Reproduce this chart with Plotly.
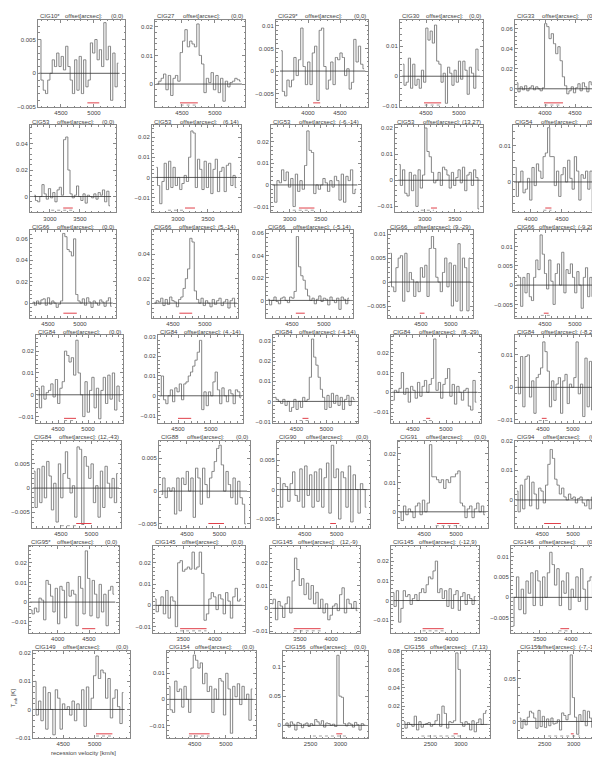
import plotly.graph_objects as go

W, H = 600, 758

# --- spectra, T_mb [K] per channel, one list per pointing ---
t_cig10 = [0.005, -0.001, -0.0025, -0.003, -0.001, 0.0, 0.002, 0.001, 0.003, 0.001, 0.0025, 0.0005, 0.004, 0.001, -0.001, -0.003, 0.002, -0.0025, 0.0025, -0.003, 0.002, -0.002, -0.001, 0.0045, 0.003, 0.005, 0.002, 0.0035, 0.001, 0.0075, 0.002, 0.004, -0.004, 0.003, -0.002, 0.0015]
t_cig27 = [0.0, 0.001, 0.002, 0.0035, -0.002, 0.003, -0.004, 0.002, 0.003, 0.001, 0.011, 0.015, 0.019, 0.013, 0.015, 0.014, 0.013, 0.021, 0.01, 0.007, -0.003, 0.002, 0.0005, 0.004, -0.002, 0.003, -0.003, 0.002, -0.006, 0.001, -0.001, 0.0005, 0.001, 0.002, 0.0015, 0.001]
t_cig29 = [0.0045, -0.0045, -0.0055, -0.002, -0.0035, -0.002, 0.003, -0.001, 0.0025, 0.0095, 0.001, -0.003, 0.002, -0.003, 0.004, 0.0055, -0.0065, 0.009, 0.0095, 0.001, -0.004, -0.002, 0.002, -0.003, 0.003, 0.0025, 0.004, 0.003, -0.001, 0.0005, -0.004, -0.0025, 0.007, 0.002, 0.0055, 0.0015, 0.0005]
t_cig30 = [0.004, -0.003, -0.002, 0.006, -0.004, 0.004, -0.003, -0.001, -0.004, 0.002, -0.002, 0.016, 0.012, 0.015, 0.011, 0.017, 0.005, 0.004, -0.002, 0.001, -0.009, 0.003, 0.001, -0.003, 0.002, -0.002, 0.005, -0.001, 0.005, 0.002, -0.006, 0.003, 0.001, -0.004, 0.009, 0.002]
t_cig33 = [0.006, -0.003, 0.002, -0.001, 0.003, -0.002, 0.001, 0.003, -0.001, 0.002, 0.0, -0.002, 0.001, 0.065, 0.062, 0.05, 0.055, 0.045, 0.035, 0.042, 0.028, 0.012, 0.003, -0.005, -0.002, 0.002, -0.004, 0.001, 0.005, -0.002, 0.006, 0.002, -0.003, 0.007, 0.004, -0.008, 0.003]
t_cig53_a = [0.001, -0.003, -0.004, 0.0, 0.009, 0.002, -0.002, 0.006, -0.001, 0.003, -0.004, 0.005, 0.007, 0.001, 0.043, 0.045, 0.02, 0.002, -0.001, 0.001, 0.008, 0.0, -0.003, 0.002, -0.005, 0.001, 0.0, -0.001, 0.002, -0.002, 0.003, 0.001, 0.005, -0.004, 0.004, -0.007]
t_cig53_b = [0.005, -0.004, -0.013, -0.002, 0.007, -0.006, 0.008, -0.005, 0.005, -0.004, 0.0, -0.006, -0.003, 0.001, -0.002, 0.01, 0.023, 0.022, -0.005, 0.009, 0.004, -0.006, 0.008, -0.005, 0.007, -0.008, 0.004, 0.009, -0.007, 0.003, 0.005, -0.007, 0.006, 0.007, -0.004, 0.001, -0.005]
t_cig53_c = [0.0, -0.008, 0.002, 0.001, 0.007, 0.002, 0.006, -0.001, 0.003, -0.01, 0.005, -0.003, 0.002, -0.002, 0.009, 0.025, 0.016, 0.015, -0.004, 0.0, -0.002, 0.0, 0.003, 0.001, -0.003, 0.002, -0.001, 0.004, 0.002, -0.007, 0.005, -0.008, 0.004, 0.002, 0.007, -0.004, -0.002]
t_cig53_d = [0.006, -0.002, 0.004, -0.005, -0.006, 0.003, -0.004, 0.002, -0.01, 0.004, -0.003, 0.002, 0.02, 0.011, 0.009, 0.003, -0.001, 0.0, 0.003, -0.002, 0.005, 0.004, 0.002, -0.003, 0.003, -0.002, 0.001, 0.004, -0.001, 0.005, -0.004, 0.002, 0.003, -0.002, 0.004, 0.001, -0.011]
t_cig54 = [0.004, -0.004, 0.0, 0.003, -0.003, -0.002, 0.001, -0.005, 0.004, -0.001, 0.005, 0.003, 0.001, 0.007, 0.008, 0.015, 0.007, 0.007, -0.001, 0.003, -0.004, 0.002, 0.004, 0.0, 0.006, 0.001, -0.002, 0.007, 0.003, -0.005, 0.002, 0.001, 0.003, -0.002, 0.003, -0.008, 0.006]
t_cig66_a = [0.001, -0.002, 0.002, -0.001, 0.003, 0.004, -0.002, 0.005, -0.001, 0.002, 0.0, -0.004, -0.001, 0.002, 0.065, 0.062, 0.05, 0.048, 0.044, 0.06, 0.008, 0.002, 0.0, 0.004, -0.002, 0.005, 0.001, -0.004, 0.002, 0.0, -0.002, 0.003, 0.001, -0.003, 0.002, 0.005, -0.003]
t_cig66_b = [0.0, 0.002, 0.001, 0.004, -0.002, 0.003, -0.001, 0.005, 0.002, 0.001, -0.003, 0.003, 0.005, 0.012, 0.02, 0.028, 0.053, 0.05, 0.01, 0.003, 0.0, 0.004, -0.002, 0.002, 0.0, -0.003, 0.003, -0.001, 0.002, 0.004, -0.002, 0.001, 0.003, -0.004, 0.002, 0.004, -0.003]
t_cig66_c = [0.001, -0.004, 0.0, 0.003, -0.001, -0.003, 0.002, 0.003, 0.0, -0.002, 0.003, 0.002, 0.008, 0.057, 0.03, 0.022, 0.018, 0.01, 0.004, 0.0, 0.002, -0.003, 0.001, 0.004, -0.001, 0.002, 0.001, -0.004, 0.003, 0.0, -0.002, 0.002, -0.008, 0.003, 0.001, -0.003, 0.002]
t_cig66_d = [0.006, -0.001, -0.002, 0.003, 0.005, 0.0055, -0.004, 0.006, -0.002, 0.002, 0.0005, -0.003, 0.0, -0.002, 0.003, 0.001, 0.0035, -0.003, 0.007, 0.0095, 0.007, 0.001, 0.0, -0.002, 0.002, 0.005, -0.001, 0.004, -0.005, 0.0035, -0.004, 0.008, -0.006, 0.005, 0.003, -0.006, 0.005]
t_cig66_e = [0.0025, 0.002, -0.0055, 0.002, -0.002, 0.003, -0.003, -0.004, 0.002, 0.0065, 0.004, 0.013, 0.008, 0.003, -0.001, 0.0065, 0.001, -0.005, 0.003, 0.0055, 0.0, 0.0085, -0.002, 0.004, 0.003, 0.0055, 0.002, -0.002, 0.0035, 0.0, -0.006, 0.002, 0.0045, -0.003, 0.002, -0.003, 0.0075]
t_cig84_a = [0.003, -0.006, 0.004, -0.002, 0.001, 0.002, 0.005, -0.001, 0.007, -0.004, 0.003, 0.006, 0.02, 0.018, 0.015, 0.017, 0.009, 0.025, 0.01, 0.0, -0.01, 0.006, -0.008, 0.002, 0.008, -0.006, 0.003, -0.011, 0.002, 0.008, -0.004, 0.009, -0.002, 0.01, -0.007, 0.004, -0.003]
t_cig84_b = [0.0, 0.01, -0.002, -0.004, 0.0, 0.003, -0.003, 0.004, 0.002, 0.006, -0.002, 0.006, 0.007, 0.01, 0.012, 0.015, 0.018, 0.022, 0.028, -0.007, 0.002, -0.005, 0.002, 0.0, 0.007, 0.012, 0.003, -0.004, 0.004, 0.0, -0.003, 0.003, 0.001, -0.004, 0.003, 0.002, -0.001]
t_cig84_c = [0.002, 0.001, 0.0, -0.001, 0.001, -0.002, 0.0, -0.005, -0.003, 0.001, -0.004, 0.0, -0.003, 0.002, 0.0, 0.001, 0.012, 0.031, 0.022, 0.018, 0.012, 0.006, 0.002, -0.004, 0.003, -0.003, 0.004, -0.001, 0.003, -0.002, 0.002, -0.004, 0.001, 0.003, -0.002, 0.002, 0.001]
t_cig84_d = [-0.004, 0.001, 0.0, 0.002, 0.01, -0.001, 0.002, -0.005, 0.003, 0.001, -0.003, 0.005, -0.002, 0.003, 0.006, 0.0, 0.004, 0.007, 0.027, 0.001, 0.005, -0.003, 0.004, 0.007, 0.012, -0.002, 0.004, -0.006, 0.003, 0.0, -0.004, 0.001, 0.002, -0.007, -0.009, 0.006, -0.005]
t_cig84_e = [0.003, -0.002, 0.0095, -0.006, 0.0095, 0.01, -0.003, 0.002, -0.008, 0.003, 0.004, 0.006, 0.014, 0.011, 0.005, -0.006, 0.002, -0.004, 0.001, 0.003, -0.008, 0.002, 0.004, -0.005, 0.001, 0.0, 0.003, 0.014, -0.002, 0.001, -0.009, 0.009, -0.006, 0.008, -0.007, 0.004, -0.008]
t_cig84_f = [0.0035, -0.004, 0.004, -0.003, 0.0045, -0.002, 0.0055, 0.0025, -0.0045, 0.001, -0.007, 0.005, -0.002, 0.003, 0.0075, 0.002, -0.001, 0.0005, -0.006, 0.0085, 0.008, -0.0075, 0.0065, 0.0045, 0.002, 0.005, -0.003, 0.0005, -0.006, 0.0035, -0.004, 0.0045, 0.001, -0.002, 0.002, -0.003, 0.003]
t_cig88 = [-0.0005, 0.002, -0.001, 0.0005, 0.0, 0.0005, -0.0035, 0.002, -0.003, 0.002, 0.001, 0.003, 0.0, 0.002, -0.004, 0.0035, 0.002, -0.002, 0.0035, 0.001, -0.001, 0.002, 0.003, 0.0045, 0.0065, 0.007, 0.004, 0.0, 0.003, 0.001, -0.001, 0.002, -0.002, 0.0015, -0.001, -0.002, -0.005]
t_cig90 = [0.002, -0.003, 0.001, 0.0005, -0.002, 0.001, 0.003, -0.001, -0.002, 0.0035, -0.003, 0.004, -0.001, 0.0025, -0.003, 0.003, -0.002, 0.0035, -0.003, 0.002, 0.0045, -0.004, 0.0075, 0.002, 0.0035, -0.005, 0.003, 0.002, -0.003, 0.004, -0.0055, 0.0025, 0.0, -0.004, 0.001, 0.0, -0.003]
t_cig91 = [0.0, -0.003, 0.002, -0.001, 0.001, 0.0, -0.002, 0.002, 0.003, -0.001, 0.004, 0.0, 0.003, 0.023, 0.012, 0.012, 0.011, 0.01, 0.011, 0.008, 0.011, 0.01, 0.012, 0.012, 0.013, 0.014, 0.003, 0.002, -0.002, 0.001, 0.002, -0.002, 0.001, 0.003, 0.0, 0.002, -0.001]
t_cig94 = [0.003, -0.004, 0.005, -0.003, 0.007, 0.008, -0.002, 0.006, 0.002, -0.003, 0.004, 0.003, -0.001, 0.005, 0.012, 0.017, 0.014, 0.007, 0.005, 0.002, 0.004, 0.001, 0.0, 0.002, 0.0005, 0.001, -0.001, 0.0005, 0.001, -0.001, -0.002, 0.0, -0.003, 0.001, -0.004, -0.002, 0.002]
t_cig95 = [-0.004, -0.006, -0.003, -0.005, 0.002, 0.001, -0.009, 0.011, 0.009, 0.003, -0.005, 0.007, -0.011, 0.008, 0.006, -0.008, 0.01, 0.003, 0.006, 0.004, -0.012, 0.013, 0.007, -0.006, 0.026, 0.012, -0.007, 0.011, 0.004, -0.008, 0.009, -0.005, 0.004, -0.012, 0.006, 0.008, 0.004]
t_cig145_a = [0.003, -0.003, 0.0, 0.004, -0.004, 0.007, -0.006, 0.004, 0.002, -0.01, 0.02, 0.021, 0.016, 0.017, 0.018, 0.017, 0.025, 0.017, 0.018, 0.025, 0.015, -0.007, -0.004, 0.003, 0.006, 0.004, -0.002, 0.005, 0.003, -0.004, 0.006, 0.002, -0.006, 0.004, 0.008, 0.002, 0.003]
t_cig145_b = [0.002, 0.004, -0.005, 0.003, 0.001, -0.004, 0.002, 0.005, -0.002, 0.012, 0.022, 0.017, 0.01, 0.013, 0.006, 0.011, 0.004, 0.01, 0.002, 0.007, 0.0, 0.004, -0.002, 0.002, -0.005, -0.003, 0.001, 0.002, -0.001, 0.006, 0.009, -0.002, 0.004, 0.002, 0.0, 0.003, -0.001]
t_cig145_c = [0.004, -0.003, 0.005, -0.011, -0.004, 0.005, 0.002, 0.003, -0.002, 0.001, 0.003, 0.0, 0.004, 0.006, 0.004, 0.008, 0.012, 0.011, 0.015, 0.02, 0.004, 0.006, 0.001, 0.005, -0.003, 0.006, -0.004, 0.003, 0.005, -0.005, 0.002, 0.004, -0.002, 0.003, 0.001, -0.002, 0.002]
t_cig146 = [-0.007, 0.0, 0.005, -0.003, 0.002, -0.004, 0.004, 0.001, 0.006, -0.002, 0.0065, 0.004, -0.002, 0.005, 0.0, 0.006, 0.011, 0.008, 0.003, 0.007, -0.002, 0.004, 0.001, 0.006, -0.003, 0.002, 0.0, 0.005, -0.001, 0.007, 0.002, -0.003, 0.004, 0.005, 0.0, -0.004, 0.002]
t_cig149 = [0.01, -0.002, 0.003, -0.004, 0.008, -0.007, 0.006, 0.0, -0.009, 0.007, 0.004, -0.007, 0.002, 0.0, 0.001, -0.002, 0.003, -0.004, 0.002, 0.0, 0.007, -0.006, 0.008, 0.0, 0.004, 0.012, 0.019, 0.011, 0.014, 0.013, 0.004, 0.011, -0.003, 0.004, 0.007, 0.001, -0.005, 0.006]
t_cig154 = [0.005, -0.004, -0.005, 0.007, 0.003, 0.004, -0.003, 0.005, 0.0, -0.005, 0.012, 0.017, 0.015, 0.012, 0.014, 0.006, 0.01, 0.003, 0.005, -0.005, 0.004, 0.0, 0.008, 0.007, -0.006, 0.01, 0.004, -0.013, 0.005, 0.001, 0.006, -0.002, 0.005, 0.0, 0.002, -0.008, 0.004]
t_cig156_a = [0.0, 0.004, -0.003, 0.006, 0.002, -0.008, 0.005, 0.003, -0.004, 0.002, 0.004, -0.002, 0.003, 0.0, 0.01, 0.006, 0.002, 0.008, -0.003, 0.004, 0.003, 0.0, 0.002, -0.002, 0.12, 0.05, 0.048, 0.003, -0.001, 0.004, 0.002, -0.003, 0.005, 0.001, -0.008, 0.003, 0.001]
t_cig156_b = [0.003, -0.004, 0.002, 0.0, -0.002, 0.009, -0.006, 0.003, -0.003, 0.0, 0.001, 0.002, -0.002, 0.0, 0.004, 0.011, -0.002, 0.02, 0.012, -0.004, 0.003, 0.002, 0.004, 0.078, 0.06, 0.002, -0.002, 0.003, 0.001, -0.006, 0.004, -0.008, 0.002, 0.006, 0.0, 0.012, 0.015]
t_cig156_c = [0.004, -0.008, 0.002, -0.004, 0.005, 0.012, 0.01, 0.004, -0.008, 0.013, -0.006, 0.006, -0.007, 0.003, -0.005, 0.004, -0.003, -0.002, 0.002, -0.01, 0.01, 0.007, 0.002, 0.008, 0.078, 0.028, 0.005, -0.015, 0.008, 0.0, 0.013, -0.005, 0.012, 0.004, -0.007, 0.0, 0.003]

SPECTRA = [t_cig10, t_cig27, t_cig29, t_cig30, t_cig33,
           t_cig53_a, t_cig53_b, t_cig53_c, t_cig53_d, t_cig54,
           t_cig66_a, t_cig66_b, t_cig66_c, t_cig66_d, t_cig66_e,
           t_cig84_a, t_cig84_b, t_cig84_c, t_cig84_d, t_cig84_e,
           t_cig84_f, t_cig88, t_cig90, t_cig91, t_cig94,
           t_cig95, t_cig145_a, t_cig145_b, t_cig145_c, t_cig146,
           t_cig149, t_cig154, t_cig156_a, t_cig156_b, t_cig156_c]

SOURCE = ["CIG10*", "CIG27", "CIG29*", "CIG30", "CIG33",
          "CIG53", "CIG53", "CIG53", "CIG53", "CIG54",
          "CIG66", "CIG66", "CIG66", "CIG66", "CIG66",
          "CIG84", "CIG84", "CIG84", "CIG84", "CIG84",
          "CIG84", "CIG88", "CIG90", "CIG91", "CIG94",
          "CIG95*", "CIG145", "CIG145", "CIG145", "CIG146",
          "CIG149", "CIG154", "CIG156", "CIG156", "CIG156"]
OFFSET = ["(0,0)", "(0,0)", "(0,0)", "(0,0)", "(0,0)",
          "(0,0)", "(6,14)", "(-6,-14)", "(13,27)", "(0,0)",
          "(0,0)", "(5,-14)", "(-5,14)", "(9,-29)", "(-9,29)",
          "(0,0)", "(4,-14)", "(-4,14)", "(8,-29)", "(-8,29)",
          "(12,-43)", "(0,0)", "(0,0)", "(0,0)", "(0,0)",
          "(0,0)", "(0,0)", "(12,-9)", "(-12,9)", "(0,0)",
          "(0,0)", "(0,0)", "(0,0)", "(7,13)", "(-7,-13)"]

# first channel velocity and channel width [km/s]
V_START = [4180, 4130, 3580, 4150, 3530,
           2740, 2640, 2740, 2570, 3745,
           4270, 4220, 4130, 3990, 4040,
           4170, 4230, 4140, 4200, 4070,
           4060, 4110, 4100, 4120, 4090,
           3570, 3050, 3050, 3050, 3070,
           4050, 4090, 2070, 2060, 2070]
CHAN_WIDTH = [34, 36, 36, 33, 37,
              36, 37, 37, 37, 36,
              34, 35, 35, 37, 36,
              38, 34, 37, 35, 37,
              38, 36, 38, 37, 37,
              37, 38, 38, 37, 38,
              38, 37, 37, 38, 37]

# velocity windows: red bar (line) and grey dotted bar
LINE_RANGE = [(4900, 5080), (4470, 4740), (4080, 4190), (4470, 4730), (3983, 4300),
              (3220, 3380), (3117, 3283), (3150, 3400), (3100, 3200), (4230, 4330),
              (4740, 4950), (4600, 4800), (4560, 4700), (4480, 4560), (4480, 4560),
              (4600, 4800), (4500, 4700), (4600, 4700), (4700, 4760), (4480, 4560),
              (4750, 5000), (4830, 5070), (4900, 4990), (4700, 5050), (4530, 4800),
              (4390, 4600), (3450, 3870), (3400, 3830), (3530, 3870), (3830, 3970),
              (5020, 5280), (4410, 4740), (2930, 3030), (2880, 2950), (2950, 3000)]
DOT_RANGE = [None, (4480, 4720), None, (4480, 4720), (3990, 4290),
             (3020, 3380), (2833, 3117), (3050, 3400), (2930, 3150), (4200, 4330),
             None, None, None, None, (4430, 4600),
             (4600, 4800), None, (4550, 4750), (4650, 4800), (4430, 4620),
             (4500, 4750), None, None, (4680, 5080), None,
             None, (3450, 3870), (3400, 3830), (3530, 3870), (3800, 4000),
             (5020, 5280), (4410, 4740), (2540, 3130), (2350, 3000), (2560, 3110)]

X_TICKS = ([[4500, 5000], [4500, 5000], [4000, 4500], [4500, 5000], [4000, 4500]]
           + [[3000, 3500]] * 4 + [[4000, 4500]]
           + [[4500, 5000]] * 15
           + [[4000, 4500]] + [[3500, 4000]] * 4
           + [[4500, 5000]] * 2 + [[2500, 3000]] * 3)

# axis scales
X_RANGE = [[4152, 5470], [4091, 5455], [3500, 4937], [4106, 5364], [3500, 4933],
           [2667, 4100], [2567, 4050], [2700, 4150], [2500, 3967], [3710, 5129],
           [4219, 5562], [4172, 5516], [4094, 5453], [3950, 5370], [4000, 5383],
           [4133, 5583], [4197, 5485], [4106, 5530], [4167, 5530], [4033, 5450],
           [4030, 5480], [4071, 5470], [4066, 5524], [4090, 5500], [4060, 5480],
           [3540, 4980], [3020, 4480], [3020, 4460], [3020, 4440], [3040, 4480],
           [4020, 5560], [4060, 5480], [2040, 3460], [2030, 3480], [2040, 3470]]
Y_RANGE = [[-0.00502, 0.0079], [-0.0081, 0.0224], [-0.008, 0.0113], [-0.0103, 0.0187], [-0.0184, 0.0687],
           [-0.012, 0.054], [-0.0173, 0.0259], [-0.0127, 0.0277], [-0.0123, 0.0211], [-0.0084, 0.0157],
           [-0.0135, 0.068], [-0.0118, 0.0596], [-0.0153, 0.0626], [-0.0074, 0.0108], [-0.0084, 0.0142],
           [-0.0128, 0.0272], [-0.0136, 0.0305], [-0.0106, 0.0328], [-0.0154, 0.0288], [-0.0109, 0.016],
           [-0.0082, 0.0098], [-0.0056, 0.0077], [-0.0065, 0.0083], [-0.0055, 0.0244], [-0.0094, 0.02],
           [-0.0157, 0.0286], [-0.013, 0.028], [-0.0108, 0.0274], [-0.0165, 0.0278], [-0.0087, 0.0126],
           [-0.0102, 0.0208], [-0.0149, 0.0186], [-0.022, 0.1275], [-0.015, 0.0802], [-0.0196, 0.0827]]
Y_DTICK = [0.005, 0.01, 0.005, 0.01, 0.02,
           0.02, 0.01, 0.01, 0.01, 0.01,
           0.02, 0.02, 0.02, 0.005, 0.005,
           0.01, 0.01, 0.01, 0.01, 0.01,
           0.005, 0.005, 0.005, 0.01, 0.01,
           0.01, 0.01, 0.01, 0.01, 0.005,
           0.01, 0.01, 0.05, 0.02, 0.05]

# --- panel geometry in pixels ---
ROW_TOP = [9, 115, 221, 327, 433, 539, 645]
PANEL_H = 88
COL_EDGES = [
    [(30, 117), (147, 237), (268, 360), (392, 475), (507, 593)],
    [(22, 108), (144, 233), (263, 353), (387, 475), (505, 593)],
    [(22, 108), (144, 230), (258, 345), (380, 465), (507, 590)],
    [(28, 115), (150, 235), (265, 350), (383, 473), (507, 592)],
    [(24, 113), (151, 242), (269, 362), (390, 480), (507, 595)],
    [(21, 111), (145, 237), (262, 352), (383, 471), (503, 593)],
    [(25, 122), (159, 248), (275, 360), (394, 482), (510, 593)],
]

FONT = "Liberation Sans"
TXT = "#444"
BOX = "#888"
CHAR_W = 2.9      # approx. px per character at 6 px font
LABEL_W = 40      # width of "offset[arcsec]:"

fig = go.Figure()
layout = {}
annotations = []

for i, vals in enumerate(SPECTRA):
    r, c = divmod(i, 5)
    ax = "" if i == 0 else str(i + 1)
    xl, xr = COL_EDGES[r][c]
    top = ROW_TOP[r]
    bot = top + PANEL_H
    dv = CHAN_WIDTH[i]
    vel = [V_START[i] + k * dv for k in range(len(vals))]
    y0, y1 = Y_RANGE[i]
    span = y1 - y0
    xa, ya = "x" + ax, "y" + ax

    # spectrum as histogram
    fig.add_trace(go.Scatter(x=vel, y=vals, mode="lines", line_shape="hvh",
                             line=dict(color="#777", width=0.9), xaxis=xa, yaxis=ya,
                             showlegend=False, hoverinfo="skip"))
    # baseline
    fig.add_trace(go.Scatter(x=[vel[0] - dv / 2, vel[-1] + dv / 2], y=[0, 0], mode="lines",
                             line=dict(color="#333", width=0.8), xaxis=xa, yaxis=ya,
                             showlegend=False, hoverinfo="skip"))
    # velocity windows
    fig.add_trace(go.Scatter(x=list(LINE_RANGE[i]), y=[y0 + 0.05 * span] * 2, mode="lines",
                             line=dict(color="#e0404a", width=1), xaxis=xa, yaxis=ya,
                             showlegend=False, hoverinfo="skip"))
    if DOT_RANGE[i]:
        fig.add_trace(go.Scatter(x=list(DOT_RANGE[i]), y=[y0 + 0.025 * span] * 2, mode="lines",
                                 line=dict(color="#888", width=0.8, dash="dot"), xaxis=xa, yaxis=ya,
                                 showlegend=False, hoverinfo="skip"))

    common = dict(showline=True, linecolor=BOX, linewidth=1, mirror="allticks",
                  ticks="inside", ticklen=3, tickcolor=BOX, tickwidth=0.8,
                  showgrid=False, zeroline=False,
                  tickfont=dict(family=FONT, size=6, color=TXT))
    layout["xaxis" + ax] = dict(common, domain=[xl / W, xr / W], anchor=ya, range=X_RANGE[i],
                                tickmode="array", tickvals=X_TICKS[i],
                                minor=dict(tickmode="linear", tick0=0, dtick=100, ticks="inside",
                                           ticklen=1.5, tickcolor=BOX))
    layout["yaxis" + ax] = dict(common, domain=[1 - bot / H, 1 - top / H], anchor=xa, range=Y_RANGE[i],
                                tickmode="linear", tick0=0, dtick=Y_DTICK[i],
                                minor=dict(tickmode="linear", tick0=0, dtick=Y_DTICK[i] / 5,
                                           ticks="inside", ticklen=1.5, tickcolor=BOX))

    # panel heading: source, "offset[arcsec]:" and offset pair
    yt = 1 - (top - 3.5) / H
    w = xr - xl
    tf = dict(family=FONT, size=6, color=TXT)
    off_start = xr - CHAR_W * len(OFFSET[i]) - 1
    lab_x = min(xl + 0.29 * w, off_start - LABEL_W)
    annotations.append(dict(x=xl / W, y=yt, xref="paper", yref="paper", text=SOURCE[i],
                            xanchor="left", yanchor="middle", showarrow=False, font=tf))
    annotations.append(dict(x=lab_x / W, y=yt, xref="paper", yref="paper",
                            text="offset[arcsec]:", xanchor="left", yanchor="middle",
                            showarrow=False, font=tf))
    annotations.append(dict(x=xr / W, y=yt, xref="paper", yref="paper", text=OFFSET[i],
                            xanchor="right", yanchor="middle", showarrow=False, font=tf))

annotations.append(dict(x=75 / W, y=1 - 748 / H, xref="paper", yref="paper",
                        text="recession velocity [km/s]", showarrow=False,
                        xanchor="center", yanchor="middle",
                        font=dict(family=FONT, size=6, color=TXT)))
annotations.append(dict(x=6 / W, y=1 - 693 / H, xref="paper", yref="paper",
                        text="T<sub>mb</sub> [K]", showarrow=False, textangle=-90,
                        xanchor="center", yanchor="middle",
                        font=dict(family=FONT, size=6, color=TXT)))

fig.update_layout(**layout)
fig.update_layout(width=W, height=H, margin=dict(l=0, r=0, t=0, b=0),
                  paper_bgcolor="white", plot_bgcolor="white",
                  showlegend=False, annotations=annotations)

fig.write_html("out.html")
